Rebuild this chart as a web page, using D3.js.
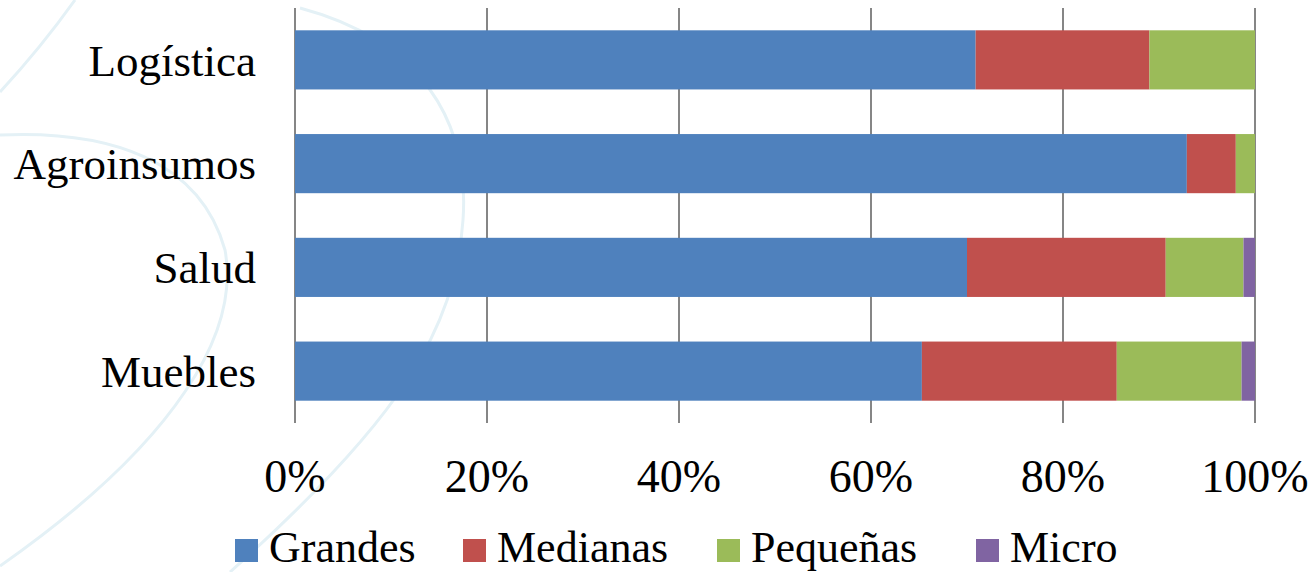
<!DOCTYPE html>
<html>
<head>
<meta charset="utf-8">
<script src="https://cdn.jsdelivr.net/npm/d3@7"></script>
<style>
  html, body { margin: 0; padding: 0; background: #fff; }
  svg { display: block; }
  text { font-family: "Liberation Serif", "DejaVu Serif", serif; fill: #000; }
</style>
</head>
<body>
<svg id="chart" width="1315" height="572"></svg>
<script>
const categories = ["Logística", "Agroinsumos", "Salud", "Muebles"];
const seriesNames = ["Grandes", "Medianas", "Pequeñas", "Micro"];
const grandes  = [70.9, 92.9, 70.0, 65.3];
const medianas = [18.1, 5.1, 20.7, 20.3];
const pequenas = [11.0, 2.0, 8.1, 13.0];
const micro    = [0.0, 0.0, 1.2, 1.4];
const tickValues = [0, 0.2, 0.4, 0.6, 0.8, 1.0];
const colors = ["#4f81bd", "#c0504d", "#9bbb59", "#8064a2"];

const svg = d3.select("#chart");

// faint decorative background arcs
const bg = svg.append("g").attr("fill", "none").attr("stroke", "#e4f1f6").attr("stroke-width", 3);
bg.append("path").attr("d", "M75,0 C50,35 25,65 0,92");
bg.append("path").attr("d", "M0,135 C110,130 200,160 225,250 C240,330 180,440 0,566");
bg.append("path").attr("d", "M300,8 C420,40 470,120 463,220 C455,330 400,420 230,572");

const margin = { left: 295, right: 60, top: 8, bottom: 149 };
const width = 1315 - margin.left - margin.right;   // 960
const height = 572 - margin.top - margin.bottom;   // 415

const g = svg.append("g").attr("transform", `translate(${margin.left},${margin.top})`);

const x = d3.scaleLinear().domain([0, 1]).range([0, width]);
const y = d3.scaleBand().domain(categories).range([0, height]).paddingInner(0.43).paddingOuter(0.215);

// grid lines + tick marks
g.selectAll(".grid").data(tickValues).enter().append("line")
  .attr("x1", d => x(d)).attr("x2", d => x(d))
  .attr("y1", 0).attr("y2", height)
  .attr("stroke", "#868686").attr("stroke-width", 2);

const data = categories.map((c, i) => ({
  cat: c,
  Grandes: grandes[i], Medianas: medianas[i], "Pequeñas": pequenas[i], Micro: micro[i]
}));
const stack = d3.stack().keys(seriesNames).offset(d3.stackOffsetExpand);
const layers = stack(data);

g.selectAll(".layer").data(layers).enter().append("g")
  .attr("fill", (d, i) => colors[i])
  .selectAll("rect").data(d => d).enter().append("rect")
  .attr("x", d => x(d[0]))
  .attr("width", d => Math.max(0, x(d[1]) - x(d[0])))
  .attr("y", d => y(d.data.cat))
  .attr("height", y.bandwidth());

// category labels
g.selectAll(".cat").data(categories).enter().append("text")
  .attr("x", -39)
  .attr("y", d => y(d) + y.bandwidth() / 2)
  .attr("dy", "0.35em")
  .attr("text-anchor", "end")
  .attr("font-size", 45)
  .text(d => d);

// x tick labels
g.selectAll(".tick").data(tickValues).enter().append("text")
  .attr("x", d => x(d))
  .attr("y", 484)
  .attr("text-anchor", "middle")
  .attr("font-size", 46)
  .text(d => d3.format(".0%")(d));

// legend
const legendX = [235, 463, 717, 976];
const legend = svg.append("g");
seriesNames.forEach((s, i) => {
  legend.append("rect")
    .attr("x", legendX[i]).attr("y", 539)
    .attr("width", 23).attr("height", 23)
    .attr("fill", colors[i]);
  legend.append("text")
    .attr("x", legendX[i] + 34).attr("y", 562)
    .attr("font-size", 44)
    .text(s);
});
</script>
</body>
</html>
